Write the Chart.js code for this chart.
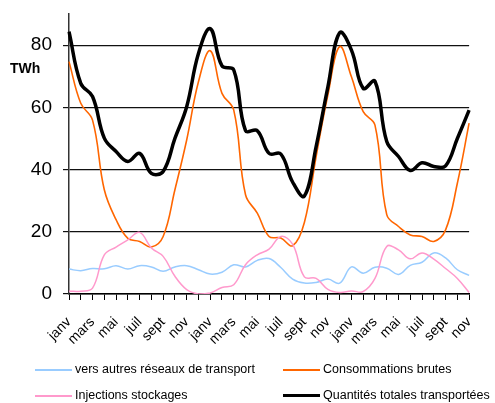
<!DOCTYPE html>
<html lang="fr">
<head>
<meta charset="utf-8">
<script src="https://cdn.jsdelivr.net/npm/chart.js@4"></script>
<style>
  body { margin: 0; background: #fff; font-family: "Liberation Sans", Arial, sans-serif; }
  #wrap { position: relative; width: 495px; height: 403px; }
  #unit { position: absolute; left: 10px; top: 60px; font-size: 14px; font-weight: bold; }
  .leg { position: absolute; font-size: 12.5px; white-space: nowrap; color: #000; }
  .leg span.ln { display: inline-block; width: 37px; vertical-align: middle; margin-right: 3px; }
</style>
</head>
<body>
<div id="wrap">
  <canvas id="myChart" width="495" height="403"></canvas>
  <div id="unit">TWh</div>
  <div id="legend"></div>
</div>
<script>
// mois (janv de l'année 1 à nov de l'année 3)
const months = [
  'janv', 'févr', 'mars', 'avr', 'mai', 'juin', 'juil', 'août', 'sept', 'oct', 'nov', 'déc',
  'janv', 'févr', 'mars', 'avr', 'mai', 'juin', 'juil', 'août', 'sept', 'oct', 'nov', 'déc',
  'janv', 'févr', 'mars', 'avr', 'mai', 'juin', 'juil', 'août', 'sept', 'oct', 'nov'
];

const versAutres = [8.0, 7.5, 8.2, 8.1, 9.1, 8.0, 9.1, 8.7, 7.3, 8.7, 9.1, 7.8, 6.4, 7.0, 9.4, 8.7, 10.8, 11.4,
  8.5, 4.8, 3.5, 3.7, 4.8, 3.5, 8.7, 6.7, 8.6, 8.3, 6.3, 9.2, 10.2, 13.2, 11.6, 7.8, 6.0];
const consoBrutes = [74.7, 61.3, 55.9, 33.5, 23.9, 17.9, 16.9, 15.1, 18.5, 33.5, 49.5, 68.2, 78.2, 64.5, 59.1, 31.9, 26.0, 18.5,
  18.0, 15.5, 23.0, 44.2, 64.0, 79.5, 69.8, 58.6, 54.3, 25.5, 21.7, 19.0, 18.5, 16.9, 20.6, 35.6, 54.9];
const injections = [0.9, 0.9, 1.9, 12.6, 15.1, 17.4, 19.8, 14.8, 12.1, 5.7, 1.4, 0.0, 0.3, 2.1, 3.0, 9.4, 12.6, 14.4,
  18.5, 16.0, 5.5, 5.0, 1.5, 0.5, 1.0, 0.8, 5.0, 15.3, 14.2, 11.3, 13.2, 11.2, 8.2, 5.0, 0.5];
const totalTransport = [84.3, 67.7, 63.5, 50.1, 45.8, 42.6, 45.2, 38.8, 39.4, 50.0, 60.2, 77.3, 85.3, 73.3, 72.0, 52.5, 52.5, 45.2,
  45.0, 36.0, 31.5, 47.4, 66.6, 84.0, 78.4, 66.1, 68.4, 49.0, 44.2, 39.7, 42.2, 41.0, 41.2, 50.0, 59.1];

const yTicks = [0, 20, 40, 60, 80];

const series = [
  { label: 'vers autres réseaux de transport', data: versAutres, color: '#99CCFF', width: 1.5 },
  { label: 'Consommations brutes', data: consoBrutes, color: '#FF6600', width: 1.6 },
  { label: 'Injections stockages', data: injections, color: '#FF99CC', width: 1.5 },
  { label: 'Quantités totales transportées', data: totalTransport, color: '#000000', width: 3.5 }
];

const ctx = document.getElementById('myChart').getContext('2d');
const myChart = new Chart(ctx, {
  type: 'line',
  data: {
    labels: months,
    datasets: series.map((s, i) => ({
      label: s.label,
      data: s.data,
      borderColor: s.color,
      borderWidth: s.width,
      pointRadius: 0,
      tension: 0.4,
      fill: false,
      order: series.length - i // le noir au-dessus
    }))
  },
  options: {
    responsive: false,
    animation: false,
    layout: { padding: { top: 14, right: 1, bottom: 49, left: 0 } },
    plugins: { legend: { display: false }, tooltip: { enabled: false } },
    scales: {
      x: {
        afterFit: (scale) => { scale.height = 60; },
        grid: { drawOnChartArea: false, drawTicks: true, tickLength: 6, color: '#000' },
        border: { color: '#000', width: 1.5 },
        ticks: {
          autoSkip: false,
          maxRotation: 45,
          minRotation: 45,
          padding: 14,
          color: '#000',
          font: { family: '"Liberation Sans", Arial, sans-serif', size: 14 },
          callback: function (value, index) {
            return index % 2 === 0 ? months[index] : '';
          }
        }
      },
      y: {
        min: 0,
        max: 90,
        afterFit: (scale) => {
          scale.width = 69;
          scale.paddingTop = 0;
          scale.paddingBottom = 0;
        },
        afterBuildTicks: (scale) => { scale.ticks = yTicks.map(v => ({ value: v })); },
        grid: { color: '#111', lineWidth: 1.2, tickLength: 6 },
        border: { color: '#333', width: 1.5 },
        ticks: {
          padding: 11,
          color: '#000',
          font: { family: '"Liberation Sans", Arial, sans-serif', size: 19 }
        }
      }
    }
  }
});

// légende sur deux colonnes
const legendPos = [
  { left: 35, top: 362 }, { left: 283, top: 362 },
  { left: 35, top: 388 }, { left: 283, top: 388 }
];
const legend = document.getElementById('legend');
series.forEach((s, i) => {
  const d = document.createElement('div');
  d.className = 'leg';
  d.style.left = legendPos[i].left + 'px';
  d.style.top = legendPos[i].top + 'px';
  const h = s.width > 2 ? 3 : 2;
  d.innerHTML = '<span class="ln" style="height:' + h + 'px;background:' + s.color + '"></span>' + s.label;
  legend.appendChild(d);
});
</script>
</body>
</html>
